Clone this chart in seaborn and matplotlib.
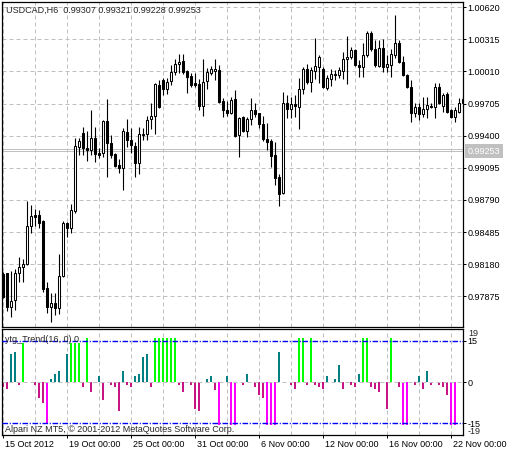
import matplotlib
matplotlib.use("Agg")
import matplotlib.pyplot as plt
import matplotlib.transforms as mtransforms
import seaborn as sns
import numpy as np

# USDCAD H6 candles
opens = [0.98086, 0.98093, 0.97770, 0.97839, 0.98093, 0.98155, 0.98181, 0.98542, 0.98646, 0.98646,
         0.98589, 0.97953, 0.97775, 0.97808, 0.97760, 0.98070, 0.98573, 0.98526, 0.98687, 0.99295,
         0.99423, 0.99280, 0.99264, 0.99375, 0.99235, 0.99238, 0.99540, 0.99328, 0.99223, 0.99121,
         0.99090, 0.99432, 0.99359, 0.99302, 0.99143, 0.99407, 0.99413, 0.99556, 0.99587, 0.99882,
         0.99929, 0.99841, 0.99922, 1.00008, 1.00078, 1.00110, 1.00014, 0.99967, 0.99898, 0.99891,
         0.99685, 0.99920, 0.99993, 1.00017, 1.00024, 0.99732, 0.99644, 0.99618, 0.99746, 0.99407,
         0.99575, 0.99447, 0.99556, 0.99644, 0.99613, 0.99511, 0.99371, 0.99349, 0.99216, 0.99005,
         0.98853, 0.99708, 0.99651, 0.99698, 0.99675, 0.99841, 1.00030, 0.99913, 1.00017, 1.00055,
         1.00030, 0.99856, 0.99936, 0.99983, 0.99977, 1.00017, 1.00126, 1.00145, 1.00214, 1.00071,
         1.00049, 1.00166, 1.00373, 1.00221, 1.00062, 1.00230, 1.00049, 1.00071, 1.00166, 1.00283,
         1.00103, 0.99977, 0.99860, 0.99618, 0.99670, 0.99603, 0.99651, 0.99682, 0.99670, 0.99860,
         0.99682, 0.99796, 0.99644, 0.99580, 0.99628, 0.99713]
highs = [0.98105, 0.98100, 0.98117, 0.98134, 0.98245, 0.98228, 0.98782, 0.98741, 0.98701, 0.98694,
         0.98599, 0.98010, 0.97908, 0.97908, 0.98276, 0.98589, 0.98583, 0.98751, 0.99375, 0.99375,
         0.99480, 0.99447, 0.99644, 0.99485, 0.99283, 0.99549, 0.99748, 0.99407, 0.99233, 0.99176,
         0.99470, 0.99559, 0.99470, 0.99343, 0.99480, 0.99473, 0.99587, 0.99708, 0.99898, 0.99929,
         0.99945, 0.99945, 1.00071, 1.00126, 1.00176, 1.00176, 1.00024, 0.99993, 0.99993, 0.99936,
         1.00126, 1.00040, 1.00062, 1.00126, 1.00071, 0.99755, 0.99732, 0.99765, 0.99834, 0.99580,
         0.99587, 0.99580, 0.99755, 0.99713, 0.99618, 0.99587, 0.99518, 0.99366, 0.99343, 0.99033,
         0.99818, 0.99787, 0.99770, 0.99787, 0.99945, 1.00049, 1.00081, 1.00049, 1.00325, 1.00166,
         1.00049, 0.99977, 1.00030, 1.00024, 1.00055, 1.00198, 1.00347, 1.00245, 1.00221, 1.00119,
         1.00278, 1.00397, 1.00395, 1.00309, 1.00309, 1.00316, 1.00166, 1.00221, 1.00547, 1.00309,
         1.00157, 0.99986, 0.99929, 0.99713, 0.99713, 0.99765, 0.99770, 0.99708, 0.99903, 0.99898,
         0.99803, 0.99818, 0.99651, 0.99670, 0.99755, 0.99777]
lows = [0.97858, 0.97737, 0.97680, 0.97744, 0.98013, 0.98013, 0.98172, 0.98478, 0.98542, 0.98520,
        0.97918, 0.97718, 0.97633, 0.97697, 0.97706, 0.98061, 0.98440, 0.98478, 0.98666, 0.99216,
        0.99216, 0.99162, 0.99216, 0.99153, 0.99188, 0.99200, 0.99005, 0.99185, 0.99105, 0.99048,
        0.98884, 0.99295, 0.99233, 0.99011, 0.99036, 0.99359, 0.99359, 0.99461, 0.99413, 0.99660,
        0.99787, 0.99796, 0.99882, 0.99977, 0.99993, 0.99983, 0.99808, 0.99866, 0.99866, 0.99644,
        0.99587, 0.99841, 0.99977, 0.99929, 0.99708, 0.99580, 0.99587, 0.99606, 0.99390, 0.99200,
        0.99438, 0.99390, 0.99502, 0.99580, 0.99476, 0.99352, 0.99264, 0.99100, 0.98931, 0.98735,
        0.98843, 0.99565, 0.99565, 0.99580, 0.99461, 0.99796, 0.99891, 0.99818, 0.99936, 0.99903,
        0.99850, 0.99834, 0.99872, 0.99929, 0.99945, 0.99936, 0.99891, 1.00126, 1.00062, 0.99960,
        0.99960, 1.00150, 1.00207, 1.00055, 1.00049, 1.00008, 1.00008, 0.99955, 1.00135, 1.00088,
        0.99967, 0.99850, 0.99533, 0.99580, 0.99549, 0.99580, 0.99565, 0.99660, 0.99565, 0.99701,
        0.99628, 0.99613, 0.99565, 0.99533, 0.99618, 0.99682]
closes = [0.97870, 0.97770, 0.97832, 0.98093, 0.98155, 0.98178, 0.98542, 0.98637, 0.98630, 0.98573,
          0.97943, 0.97775, 0.97808, 0.97766, 0.98067, 0.98568, 0.98526, 0.98694, 0.99302, 0.99349,
          0.99280, 0.99264, 0.99375, 0.99223, 0.99219, 0.99540, 0.99328, 0.99216, 0.99112, 0.99096,
          0.99445, 0.99359, 0.99309, 0.99143, 0.99413, 0.99413, 0.99549, 0.99587, 0.99891, 0.99675,
          0.99841, 0.99913, 1.00008, 1.00081, 1.00103, 1.00008, 0.99960, 0.99882, 0.99882, 0.99682,
          0.99913, 1.00002, 1.00033, 1.00030, 0.99723, 0.99644, 0.99618, 0.99739, 0.99397, 0.99565,
          0.99447, 0.99556, 0.99644, 0.99603, 0.99508, 0.99366, 0.99343, 0.99210, 0.99001, 0.98843,
          0.99708, 0.99651, 0.99698, 0.99685, 0.99841, 1.00030, 0.99913, 1.00024, 1.00062, 1.00145,
          0.99860, 0.99945, 0.99986, 0.99977, 1.00024, 1.00126, 1.00145, 1.00214, 1.00069, 1.00049,
          1.00166, 1.00373, 1.00221, 1.00069, 1.00230, 1.00049, 1.00081, 1.00176, 1.00278, 1.00103,
          0.99977, 0.99860, 0.99618, 0.99670, 0.99603, 0.99651, 0.99689, 0.99670, 0.99860, 0.99708,
          0.99787, 0.99628, 0.99580, 0.99644, 0.99713, 0.99746]

# ytg_Trend(16, 0) histogram
trend = [-1.8, -2.6, 10.2, 10.9, -1.0, 14.2, 0, 0, -1.0, -6.0,
         -7.8, -15.0, 1.2, 3.0, 4.0, 0, 10.2, 14.2, 14.2, 14.2,
         -1.8, 16, -3.8, 0, 2.2, -6.6, 0, -1.0, -1.8, -10.6,
         4.0, -1.0, -1.8, 2.2, 3.0, 9.0, 10.2, -1.8, 16, 16,
         16, 16, 16, 16, -1.0, -3.8, 0, -1.0, -9.8, -10.4,
         0, 1.2, 2.2, -2.8, -15.6, 0, 2.2, -15.6, -15.6, 0,
         -1.0, 3.0, 0, -1.8, -4.8, -6.0, -15.6, -15.6, -15.6, 10.9,
         0, 0, -1.0, -2.6, 16, 16, -1.0, 16, -1.0, -1.8,
         -2.6, 2.2, 0, 1.2, 6.2, -2.6, 0, -1.0, -1.8, 3.0,
         16, 16, -1.8, -2.6, -3.8, 0, -9.8, 16, 0, -1.8,
         -15.6, -15.6, 0, -1.0, 2.2, -2.6, 4.0, -1.0, 0, -1.0,
         -1.8, -4.8, -15.6, -15.6, 0, 0]

date_labels = ["15 Oct 2012", "19 Oct 00:00", "25 Oct 00:00", "31 Oct 00:00",
               "6 Nov 00:00", "12 Nov 00:00", "16 Nov 00:00", "22 Nov 00:00"]
price_ticks = [0.97875, 0.98180, 0.98485, 0.98790, 0.99095, 0.99400, 0.99705, 1.00010, 1.00315, 1.00620]
header_ohlc = [0.99307, 0.99321, 0.99228, 0.99253]
bid, ask = 0.99253, 0.99274
levels = [15, -15]

sns.set_style("white")
plt.rcParams['font.family'] = ['Liberation Sans', 'DejaVu Sans']
plt.rcParams['font.size'] = 6.5

W, H = 516, 457
fig = plt.figure(figsize=(W / 100, H / 100), dpi=100, facecolor='white')
ax = fig.add_axes([2 / W, 1 - 327 / H, 461 / W, 325 / H])
ax2 = fig.add_axes([2 / W, 1 - 435 / H, 461 / W, 106 / H])

idx = np.arange(len(opens))
o, h, l, c = map(np.array, (opens, highs, lows, closes))
grid_kw = dict(color='#C0C0C0', linewidth=0.72, linestyle=(0, (4, 3)))

# --- price window ---
ax.set_axisbelow(True)
ax.vlines(idx, l, h, color='black', lw=0.8, zorder=3)
ax.bar(idx, c - o, bottom=o, width=0.55,
       color=np.where(c >= o, 'white', 'black'), edgecolor='black', linewidth=0.75, zorder=4)
ax.axhline(ask, color='#C0C0C0', lw=0.72, zorder=2)
ax.axhline(bid, color='#C0C0C0', lw=0.72, zorder=2)

ax.set_xlim(-0.33, 114.93)
ax.set_ylim(0.97583, 1.00670)
ax.set_yticks(price_ticks)
ax.set_yticklabels([f"{v:.5f}" for v in price_ticks])
ax.yaxis.tick_right()
ax.tick_params(axis='y', right=True, direction='out', length=2.2, width=0.72, pad=1.2,
               labelsize=6.5, colors='black')
ax.set_xticks(np.arange(0, len(opens), 8))
ax.tick_params(axis='x', bottom=False, length=0, labelbottom=False)
ax.grid(True, **grid_kw)

ax.annotate(f"{bid:.5f}", xy=(1, bid), xycoords=('axes fraction', 'data'),
            xytext=(5, 0), textcoords='offset pixels', ha='left', va='center',
            color='white', fontsize=6.5, annotation_clip=False,
            bbox=dict(boxstyle='square,pad=0.3', fc='#C0C0C0', ec='none'))
ax.annotate("USDCAD,H6  " + " ".join(f"{v:.5f}" for v in header_ohlc),
            xy=(0, 1), xycoords='axes fraction', xytext=(4.5, -8), textcoords='offset pixels',
            ha='left', va='center', fontsize=6.5, zorder=10)

# --- indicator window ---
cats = ['strong_up' if v >= 12 else 'strong_down' if v <= -12 else 'up' if v >= 0 else 'down'
        for v in trend]
palette = {'strong_up': '#00FF00', 'up': '#008080', 'down': '#C71585', 'strong_down': '#FF00FF'}
sns.barplot(x=idx, y=trend, hue=cats, palette=palette, native_scale=True, width=0.5,
            dodge=False, saturation=1, errorbar=None, legend=False, linewidth=0, ax=ax2)

ax2.set_axisbelow(True)
ax2.axhline(0, zorder=1, **grid_kw)
for lv in levels:
    ax2.axhline(lv, color='#0000FF', lw=1.0, linestyle=(0, (4, 1.2, 0.8, 1.2)), zorder=5)

ax2.set_xlim(-0.33, 114.93)
ax2.set_ylim(-19.3, 19.3)
ax2.set_xlabel('')
ax2.set_ylabel('')
ax2.set_yticks([15, 0, -15])
ax2.set_yticklabels(['15', '0', '-15'])
ax2.yaxis.tick_right()
ax2.tick_params(axis='y', right=True, direction='out', length=2.2, width=0.72, pad=1.2,
                labelsize=6.5, colors='black')
ax2.annotate("19", xy=(1, 1), xycoords='axes fraction', xytext=(5, -5),
             textcoords='offset pixels', ha='left', va='center', fontsize=6.5, annotation_clip=False)
ax2.annotate("-19", xy=(1, 0), xycoords='axes fraction', xytext=(5, 3),
             textcoords='offset pixels', ha='left', va='center', fontsize=6.5, annotation_clip=False)

ax2.set_xticks(np.arange(0, len(opens), 16))
ax2.set_xticklabels(date_labels)
ax2.set_xticks(np.arange(0, len(opens), 8), minor=True)
ax2.tick_params(axis='x', which='major', bottom=True, direction='out', length=2.2, width=0.72,
                pad=1.5, labelsize=6.5, colors='black')
ax2.tick_params(axis='x', which='minor', bottom=False, length=0)
ax2.grid(True, which='both', axis='x', **grid_kw)
ax2.grid(False, axis='y')
shift = mtransforms.ScaledTranslation(2 / 100, 0, fig.dpi_scale_trans)
for lab in ax2.get_xticklabels():
    lab.set_ha('left')
    lab.set_transform(lab.get_transform() + shift)

ax2.annotate("ytg_Trend(16, 0) 0", xy=(0, 1), xycoords='axes fraction', xytext=(3, -10),
             textcoords='offset pixels', ha='left', va='center', fontsize=6.5, zorder=10)
ax2.annotate("Alpari NZ MT5, \u00a9 2001-2012 MetaQuotes Software Corp.", xy=(0, 0),
             xycoords='axes fraction', xytext=(3, 6), textcoords='offset pixels',
             ha='left', va='center', fontsize=6.5, zorder=10)

for a in (ax, ax2):
    for sp in a.spines.values():
        sp.set_visible(True)
        sp.set_color('black')
        sp.set_linewidth(0.9)

fig.savefig('out.png', dpi=100, facecolor='white')
